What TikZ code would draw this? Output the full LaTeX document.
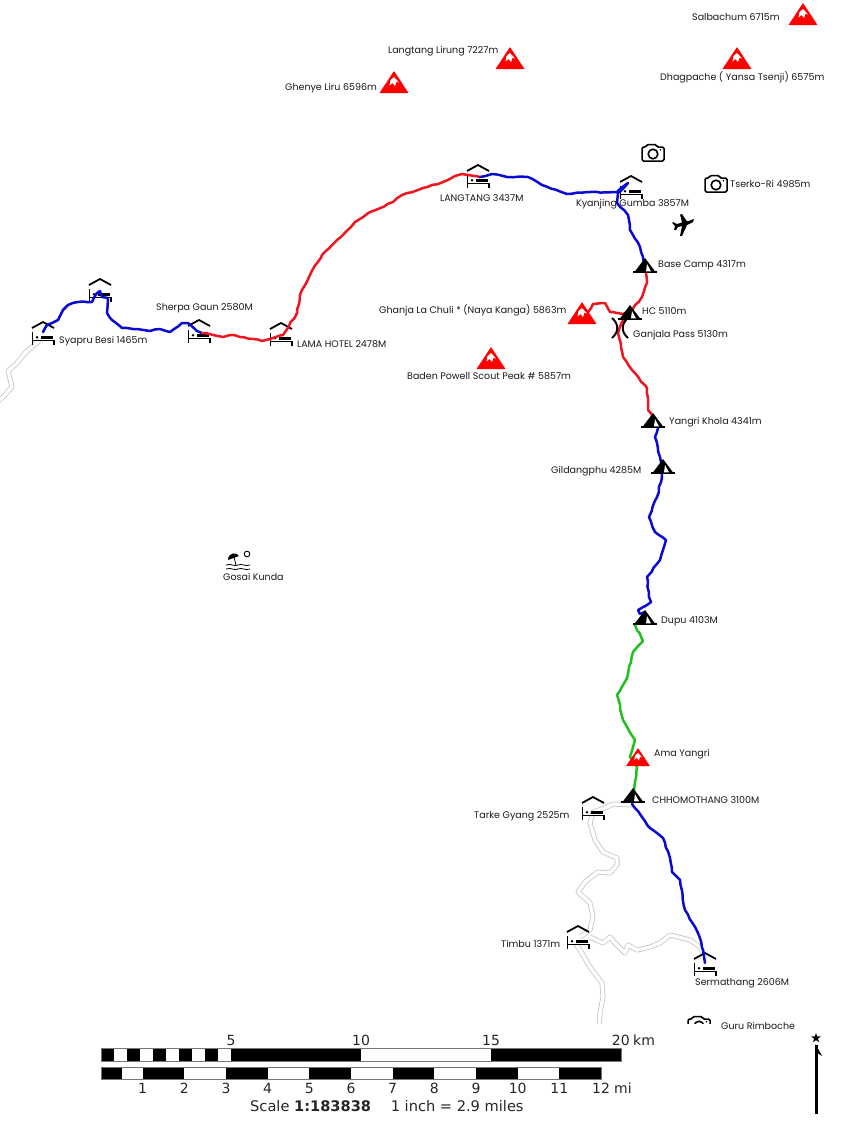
\documentclass[tikz,border=0pt]{standalone}
\usepackage{fontspec}
\setmainfont{Poppins}
\newfontfamily\barfont{DejaVu Sans}
\usetikzlibrary{shapes.geometric,decorations.pathmorphing}
\definecolor{trail_red}{HTML}{EE1620}
\definecolor{trail_blue}{HTML}{0A0AD2}
\definecolor{trail_green}{HTML}{1FC01F}
\definecolor{road_gray}{HTML}{C4C4C4}
\definecolor{bar_gray}{HTML}{777777}
\pgfmathsetseed{7}
\tikzset{
  maplabel/.style={anchor=west,inner sep=0,font=\fontsize{9.5}{11}\selectfont,text=black!90},
  barlabel/.style={inner sep=0,font=\barfont\fontsize{14}{16}\selectfont,text=black!85},
  trail/.style={line width=2.5pt,line join=round,line cap=round,decorate,decoration={random steps,segment length=5pt,amplitude=.6pt}},
  road/.style={draw=road_gray,line width=.8pt,double=white,double distance=3.4pt,line join=round},
  lodge/.pic={
    \draw[line width=1.8pt] (-11,6) -- (0,0) -- (11,6);
    \draw[line width=1.5pt] (-10.5,10) -- (-10.5,23) (-10.5,18.5) -- (11,18.5) -- (11,23);
    \fill (-6,15.2) circle (1.4);
    \fill (-2,13.8) rectangle (10,16.8);
  },
  tent/.pic={
    \fill (0,0) -- (10.5,14) -- (-10.5,14) -- cycle;
    \draw[line width=1.2pt] (-12,14) -- (12,14);
    \fill[white] (2,6) -- (6,13.4) -- (1,13.4) -- cycle;
  },
  peak/.pic={
    \fill[red,rounded corners=.5pt] (0,0) -- (14.5,22) -- (-14.5,22) -- cycle;
    \fill[white] (0,6) -- (5,11.5) -- (2.5,10.5) -- (1,15) -- (-1.5,12) -- (-4.5,14.5) -- (-3.5,9) -- cycle;
  },
  photo/.pic={
    \draw[line width=1.5pt,rounded corners=1.5pt] (-11,-6) -- (-7,-6) -- (-6,-8.5) -- (3,-8.5) -- (4,-6) -- (11,-6) -- (11,8) -- (-11,8) -- cycle;
    \draw[line width=1.6pt] (0,1) circle (4.8);
    \fill (7.5,-3.2) circle (.9);
  },
}
\begin{document}
\begin{tikzpicture}[x=1pt,y=-1pt]
    \useasboundingbox (0,0) rectangle (850,1128);
    % grey roads, cut off at the foot of the map
    \begin{scope}
      \clip (0,0) rectangle (850,1023);
      \draw[road] (40,340) -- (25,353) -- (17,363) -- (8,371) -- (12,387) -- (3,397) -- (-3,402);
      \draw[road] (632,805) -- (613,804) -- (605,808) -- (593,812) -- (590,823) -- (595,840) -- (603,852) -- (617,858) -- (617,865) -- (610,873) -- (598,872) -- (585,882) -- (578,892) -- (590,903) -- (593,917) -- (590,930) -- (580,937);
      \draw[road] (590,937) -- (603,943) -- (610,937) -- (615,943) -- (625,953) -- (628,945) -- (637,950) -- (650,947) -- (660,943) -- (670,935) -- (690,940) -- (700,947) -- (703,953);
      \draw[road] (575,943) -- (580,950) -- (590,967) -- (602,983) -- (603,997) -- (600,1013) -- (599,1030);
      \pic at (699,1025) {photo};
    \end{scope}
    % lodges
    \foreach \x/\y in {43/322,100/279,199/320,281/323,478/165,631/176,593/797,578/926,705/953}
      \pic at (\x,\y) {lodge};
    \coordinate (syapru) at (43,332);
    \coordinate (sherpa) at (202,333);
    \coordinate (lama) at (270,339);
    \coordinate (langtang) at (480,177);
    \coordinate (kyanjing) at (628,183);
    \coordinate (basecamp) at (645,264);
    \coordinate (hc) at (632,310);
    \coordinate (yangri) at (653,417);
    \coordinate (dupu) at (645,612);
    \coordinate (chhomo) at (632,804);
    \coordinate (sermathang) at (705,963);
    \coordinate (ghanja) at (588,312);
    % the trails
    \draw[trail,trail_blue] (syapru) -- (47,325) -- (58,320) -- (63,310) -- (68,305) -- (78,302) -- (92,302) -- (97,293) -- (100,291) -- (102,297) -- (108,298) -- (107,313) -- (112,320) -- (122,328) -- (133,329) -- (150,331) -- (160,329) -- (170,332) -- (182,323) -- (188,323) -- (197,331) -- (sherpa);
    \draw[trail,trail_red] (sherpa) -- (213,335) -- (223,337) -- (230,335) -- (243,337) -- (262,341) -- (lama) -- (283,335) -- (297,313) -- (300,295) -- (310,275) -- (322,255) -- (337,240) -- (350,228) -- (355,222) -- (370,212) -- (393,202) -- (402,195) -- (423,188) -- (443,182) -- (455,176) -- (462,174) -- (langtang);
    \draw[trail,trail_blue] (langtang) -- (492,174) -- (507,177) -- (528,177) -- (542,185) -- (567,194) -- (590,192) -- (617,192) -- (kyanjing) -- (618,193) -- (617,203) -- (628,215) -- (630,230) -- (640,247) -- (basecamp);
    \draw[trail,trail_red] (basecamp) -- (647,283) -- (642,297) -- (hc) -- (622,322) -- (618,333) -- (623,357) -- (632,370) -- (647,388) -- (648,410) -- (yangri);
    \draw[trail,trail_red] (hc) -- (623,314) -- (610,312) -- (605,303) -- (593,304) -- (ghanja);
    \draw[trail,trail_blue] (yangri) -- (655,420) -- (658,428) -- (655,437) -- (660,457) -- (662,477) -- (657,497) -- (649,517) -- (655,532) -- (666,540) -- (660,560) -- (647,577) -- (649,597) -- (651,602) -- (638,610) -- (640,614) -- (dupu);
    \draw[trail,trail_green] (dupu) -- (635,625) -- (643,641) -- (633,652) -- (627,678) -- (617,695) -- (623,720) -- (635,740) -- (630,757) -- (637,767) -- (chhomo);
    \draw[trail,trail_blue] (chhomo) -- (642,817) -- (650,828) -- (663,838) -- (670,858) -- (672,872) -- (680,880) -- (685,910) -- (698,933) -- (703,950) -- (sermathang);
    % tents and peaks go over the trails
    \foreach \x/\y in {645/258,630/305,653/413,663/459,645/610,633/788}
      \pic at (\x,\y) {tent};
    \foreach \x/\y in {803/3,737/47,510/47,394/71,582/302,491/347}
      \pic at (\x,\y) {peak};
    \pic[scale=.82] at (638,748) {peak};
    \pic at (653,153) {photo};
    \pic at (716,184) {photo};
    % plane
    \fill[rounded corners=.4pt,shift={(683,224)}] (11,-5) -- (4,-2.5) -- (-1,-10) -- (-3,-9.5) -- (-1,-1.5) -- (-6,0) -- (-10,-2) -- (-11,-1) -- (-8,2) -- (-9,6) -- (-7,6) -- (-5,3) -- (-1,2) -- (-3,12) -- (-1,12) -- (4,1) -- (10,-2) -- cycle;
    % pass
    \draw[line width=1.9pt] (612,318) .. controls (619,324) and (619,332) .. (612,338);
    \draw[line width=1.9pt] (628,318) .. controls (621,324) and (621,332) .. (628,338);
    % beach
    \draw[line width=.9pt] (247,554) circle (2.8);
    \fill (228,560) .. controls (228,553) and (236,551) .. (239,556) -- cycle;
    \draw[line width=.8pt] (234,557) -- (236,565);
    \draw[line width=.8pt] (226,565) .. controls (231,563) and (234,567) .. (238,565) .. controls (242,563) and (245,567) .. (250,565);
    \draw[line width=.8pt] (226,569) .. controls (231,567) and (234,571) .. (238,569) .. controls (242,567) and (245,571) .. (250,569);
    % labels
    \node[maplabel] (salbachum) at (692,17) {Salbachum 6715m};
    \node[maplabel] (lirung) at (388,51) {Langtang Lirung 7227m};
    \node[maplabel] (ghenye) at (285,88) {Ghenye Liru 6596m};
    \node[maplabel] (dhagpache) at (660,77) {Dhagpache ( Yansa Tsenji) 6575m};
    \node[maplabel] (tserko) at (730,184) {Tserko-Ri 4985m};
    \node[maplabel] (tlangtang) at (440,198) {LANGTANG 3437M};
    \node[maplabel] (tkyanjing) at (576,204) {Kyanjing Gumba 3857M};
    \node[maplabel] (tbase) at (658,265) {Base Camp 4317m};
    \node[maplabel] (tsherpa) at (156,308) {Sherpa Gaun 2580M};
    \node[maplabel] (tsyapru) at (59,341) {Syapru Besi 1465m};
    \node[maplabel] (tlama) at (297,344) {LAMA HOTEL 2478M};
    \node[maplabel] (tghanja) at (379,310) {Ghanja La Chuli * (Naya Kanga) 5863m};
    \node[maplabel] (thc) at (642,311) {HC 5110m};
    \node[maplabel] (tpass) at (633,335) {Ganjala Pass 5130m};
    \node[maplabel] (tbaden) at (407,376) {Baden Powell Scout Peak \# 5857m};
    \node[maplabel] (tyangri) at (669,422) {Yangri Khola 4341m};
    \node[maplabel] (tgildang) at (551,471) {Gildangphu 4285M};
    \node[maplabel] (tgosai) at (223,577) {Gosai Kunda};
    \node[maplabel] (tdupu) at (661,621) {Dupu 4103M};
    \node[maplabel] (tama) at (654,754) {Ama Yangri};
    \node[maplabel] (tchhomo) at (652,800) {CHHOMOTHANG 3100M};
    \node[maplabel] (ttarke) at (474,816) {Tarke Gyang 2525m};
    \node[maplabel] (ttimbu) at (501,944) {Timbu 1371m};
    \node[maplabel] (tsermathang) at (695,983) {Sermathang 2606M};
    \node[maplabel] (tguru) at (721,1026) {Guru Rimboche};
    % km bar
    \fill (101,1048) rectangle (621,1061);
    \foreach \i in {1,3,5,7,9}
      \fill[white] ({101+13*\i},1048) rectangle ({101+13*(\i+1)},1061);
    \fill[white] (361,1048) rectangle (491,1061);
    \draw[bar_gray,line width=.6pt] (101,1048) rectangle (621,1061);
    \node[barlabel] (k5) at (231,1040) {5};
    \node[barlabel] (k10) at (361,1040) {10};
    \node[barlabel] (k15) at (491,1040) {15};
    \node[barlabel,anchor=east] (k20) at (630,1040) {20};
    \node[barlabel,anchor=west] (km) at (633,1040) {km};
    % mile bar
    \fill (101,1067) rectangle (601,1079);
    \fill[white] (122,1067) rectangle (143,1079);
    \foreach \i in {2,4,6,8,10}
      \fill[white] ({101+500/12*\i},1067) rectangle ({101+500/12*(\i+1)},1079);
    \draw[bar_gray,line width=.6pt] (101,1067) rectangle (601,1079);
    \foreach \i in {1,...,11}
      \node[barlabel] (m\i) at ({101+500/12*\i},1088) {\i};
    \node[barlabel] (m12) at (601,1088) {12};
    \node[barlabel,anchor=west] (mi) at (614,1088) {mi};
    \node[barlabel,anchor=west,font=\barfont\fontsize{14.6}{16}\selectfont] (scale) at (250,1106) {Scale \textbf{1:183838}\hspace{1.35em}1 inch = 2.9 miles};
    % north arrow
    \node[star,star points=5,star point ratio=2.4,fill,inner sep=0,minimum size=10pt] (north) at (816,1038) {};
    \coordinate (nfoot) at (816.5,1114);
    \draw[line width=2.4pt] (nfoot) -- (816.5,1045);
    \fill (815.5,1044) -- (822,1056) -- (816,1052) -- cycle;
\end{tikzpicture}
\end{document}
